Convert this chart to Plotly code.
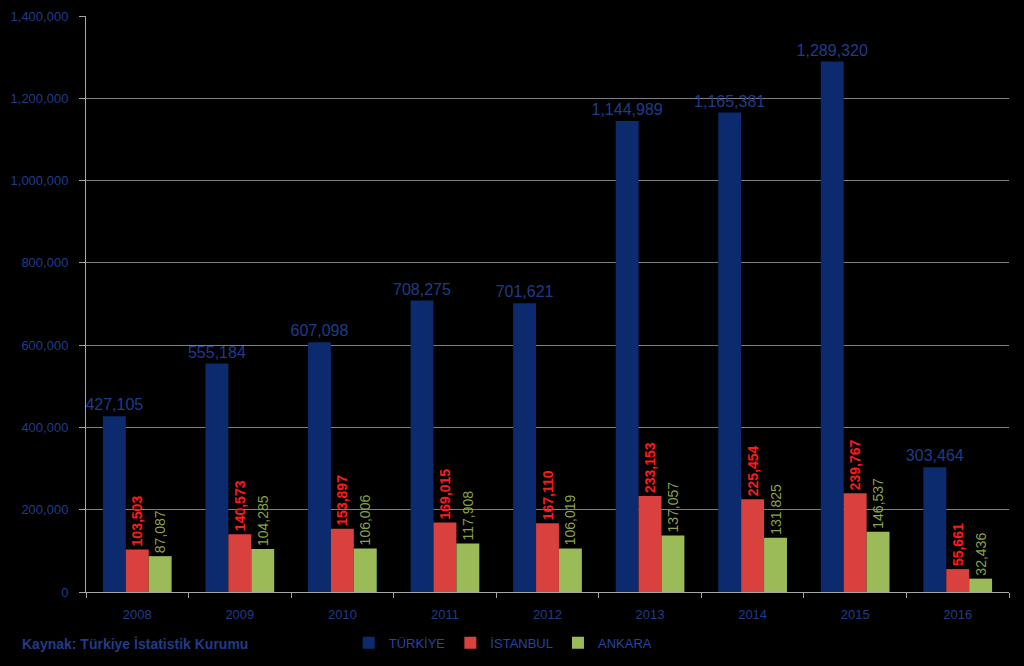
import plotly.graph_objects as go

years = ["2008", "2009", "2010", "2011", "2012", "2013", "2014", "2015", "2016"]
turkiye = [427105, 555184, 607098, 708275, 701621, 1144989, 1165381, 1289320, 303464]
istanbul = [103503, 140573, 153897, 169015, 167110, 233153, 225454, 239767, 55661]
ankara = [87087, 104285, 106006, 117908, 106019, 137057, 131825, 146537, 32436]

FONT = "Liberation Sans Narrow, Liberation Sans, Arial"
BLUE_TXT = "#1F3C88"

def fmt(v):
    return f"{v:,}"

fig = go.Figure()
fig.add_trace(go.Bar(
    name="TÜRKİYE", x=years, y=turkiye, marker=dict(color="#0C2A6E", line=dict(width=0)),
    text=[fmt(v) for v in turkiye], textposition="outside", textangle=0,
    textfont=dict(color=BLUE_TXT, size=16, family=FONT),
    constraintext="none", cliponaxis=False,
))
fig.add_trace(go.Bar(
    name="İSTANBUL", x=years, y=istanbul, marker=dict(color="#D8413E", line=dict(width=0)),
    text=[f"<b>{fmt(v)}</b>" for v in istanbul], textposition="outside", textangle=-90,
    textfont=dict(color="#FF1A1A", size=14, family=FONT),
    constraintext="none", cliponaxis=False,
))
fig.add_trace(go.Bar(
    name="ANKARA", x=years, y=ankara, marker=dict(color="#9BBB59", line=dict(width=0)),
    text=[fmt(v) for v in ankara], textposition="outside", textangle=-90,
    textfont=dict(color="#8AA24A", size=14, family=FONT),
    constraintext="none", cliponaxis=False,
))

fig.update_layout(
    width=1024, height=666,
    paper_bgcolor="black", plot_bgcolor="black",
    margin=dict(l=86, r=15, t=16, b=74, autoexpand=False),
    barmode="group", bargap=0.33, bargroupgap=0,
    font=dict(family=FONT, color=BLUE_TXT),
    legend=dict(orientation="h", x=0.452, xanchor="center", y=-0.088, yanchor="middle",
                font=dict(size=13, color="#2346A0", family=FONT), bgcolor="rgba(0,0,0,0)",
                itemwidth=30, tracegroupgap=0),
    xaxis=dict(
        showline=True, linecolor="#A6A6A6", linewidth=1, automargin=False,
        ticks="outside", tickson="boundaries", ticklen=5, tickcolor="#A6A6A6",
        ticklabelstandoff=10,
        tickfont=dict(size=13, color=BLUE_TXT, family=FONT),
        showgrid=False,
    ),
    yaxis=dict(
        range=[0, 1400000], dtick=200000, tickformat=",", automargin=False,
        showline=True, linecolor="#A6A6A6", linewidth=1,
        ticks="outside", ticklen=6, tickcolor="#A6A6A6",
        ticklabelstandoff=8,
        gridcolor="#7F7F7F", gridwidth=1, zeroline=False,
        tickfont=dict(size=13, color=BLUE_TXT, family=FONT),
    ),
    annotations=[dict(
        text="<b>Kaynak: Türkiye İstatistik Kurumu</b>", xref="paper", yref="paper",
        x=-0.0715, xanchor="left", y=-0.09, yanchor="middle", showarrow=False,
        font=dict(size=14, color=BLUE_TXT, family=FONT),
    )],
)

fig.write_html(
    "out.html",
    config={"displayModeBar": False},
    post_script="document.body.style.margin='0';document.body.style.background='black';document.body.style.overflow='hidden';",
)
